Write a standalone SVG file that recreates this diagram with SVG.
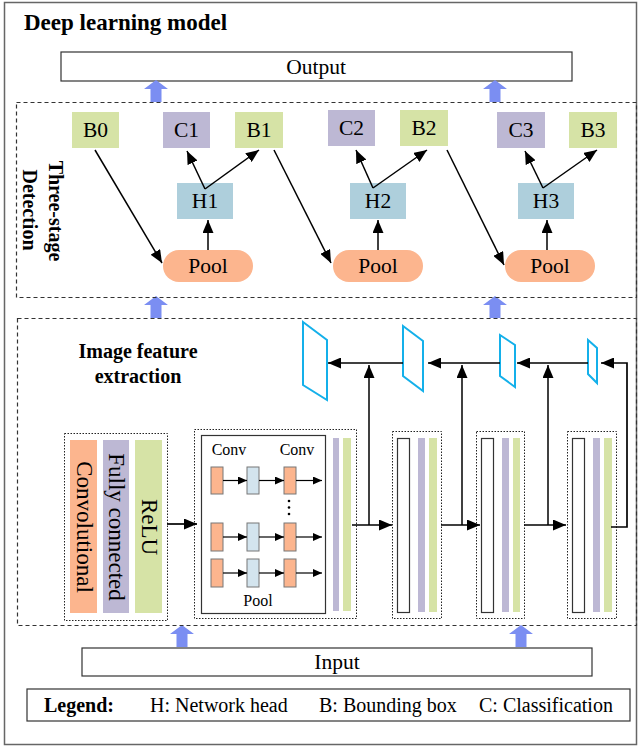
<svg xmlns="http://www.w3.org/2000/svg" width="641" height="749" viewBox="0 0 641 749">
<defs>
<marker id="ah" markerUnits="userSpaceOnUse" markerWidth="14" markerHeight="11" refX="13" refY="5.5" orient="auto"><path d="M0,0 L13,5.5 L0,11 z" fill="#000"/></marker>
<marker id="as" markerUnits="userSpaceOnUse" markerWidth="10" markerHeight="8" refX="9" refY="4" orient="auto"><path d="M0,0 L9,4 L0,8 z" fill="#000"/></marker>
<style>
text{font-family:"Liberation Serif","Times New Roman",serif;fill:#000}
.b{font-weight:bold}
.g{fill:#d6e3a6}.p{fill:#bdb8d4}.h{fill:#aecfdc}.o{fill:#fcb58e}
.dash{fill:none;stroke:#333;stroke-width:1.2;stroke-dasharray:4,3}
.dot{fill:none;stroke:#222;stroke-width:1;stroke-dasharray:1.5,1.5}
.ln{fill:none;stroke:#000;stroke-width:1.7}
.sl{fill:none;stroke:#000;stroke-width:1.5}
.ss{fill:none;stroke:#000;stroke-width:1.2}
.tr{fill:#fff;stroke:#14b0ea;stroke-width:2}
.bar{fill:#fff;stroke:#333;stroke-width:1.2}
.ob{fill:#fcb58e;stroke:#777;stroke-width:1}
.bb{fill:#d3e4ee;stroke:#777;stroke-width:1}
.ba{fill:#7b8ef2}
.lbl{font-size:21.5px;text-anchor:middle;dominant-baseline:central}
</style>
</defs>
<rect x="0" y="0" width="641" height="749" fill="#fff"/>
<rect x="4.5" y="2.5" width="632" height="742" fill="none" stroke="#666" stroke-width="1.5"/>
<text x="24" y="30" class="b" font-size="23">Deep learning model</text>

<g id="output"><rect x="61" y="52" width="511" height="29" fill="#fff" stroke="#333" stroke-width="1.2"/><text x="316" y="67" class="lbl" font-size="20">Output</text></g>

<g id="block-arrows">
<polygon class="ba" points="150.5,102 150.5,89 144,89 156,80 168,89 161.5,89 161.5,102"/>
<polygon class="ba" points="489.5,102 489.5,89 483,89 495,80 507,89 500.5,89 500.5,102"/>
<polygon class="ba" points="150.5,318 150.5,305 144,305 156,296 168,305 161.5,305 161.5,318"/>
<polygon class="ba" points="489.5,318 489.5,305 483,305 495,296 507,305 500.5,305 500.5,318"/>
<polygon class="ba" points="176.5,647 176.5,634 170,634 182,625 194,634 187.5,634 187.5,647"/>
<polygon class="ba" points="515.5,647 515.5,634 509,634 521,625 533,634 526.5,634 526.5,647"/>
</g>

<g id="detection">
<rect class="dash" x="16.5" y="102.5" width="620" height="195"/>
<text transform="translate(56,211) rotate(90)" class="b" font-size="20" text-anchor="middle" dominant-baseline="central">Three-stage</text>
<text transform="translate(30,210) rotate(90)" class="b" font-size="20" text-anchor="middle" dominant-baseline="central">Detection</text>
</g>

<g id="B0"><rect class="g" x="72" y="112" width="47" height="36"/><text class="lbl" x="95.5" y="130">B0</text></g>
<g id="C1"><rect class="p" x="163" y="112" width="47" height="36"/><text class="lbl" x="186.5" y="130">C1</text></g>
<g id="B1"><rect class="g" x="235" y="112" width="48" height="36"/><text class="lbl" x="259" y="130">B1</text></g>
<g id="H1"><rect class="h" x="177" y="183" width="56" height="36"/><text class="lbl" x="205" y="201">H1</text></g>
<g id="Pool1"><rect class="o" x="163" y="250" width="90" height="32" rx="16"/><text class="lbl" x="208" y="266" font-size="22">Pool</text></g>
<g id="C2"><rect class="p" x="328" y="110" width="47" height="36"/><text class="lbl" x="351.5" y="128">C2</text></g>
<g id="B2"><rect class="g" x="400" y="110" width="48" height="36"/><text class="lbl" x="424" y="128">B2</text></g>
<g id="H2"><rect class="h" x="350" y="183" width="56" height="36"/><text class="lbl" x="378" y="201">H2</text></g>
<g id="Pool2"><rect class="o" x="333" y="250" width="90" height="32" rx="16"/><text class="lbl" x="378" y="266" font-size="22">Pool</text></g>
<g id="C3"><rect class="p" x="497" y="112" width="48" height="36"/><text class="lbl" x="521" y="130">C3</text></g>
<g id="B3"><rect class="g" x="569" y="112" width="48" height="36"/><text class="lbl" x="593" y="130">B3</text></g>
<g id="H3"><rect class="h" x="518" y="183" width="56" height="36"/><text class="lbl" x="546" y="201">H3</text></g>
<g id="Pool3"><rect class="o" x="505" y="250" width="90" height="32" rx="16"/><text class="lbl" x="550" y="266" font-size="22">Pool</text></g>

<g id="feature">
<rect class="dash" x="17.5" y="318.5" width="619" height="307"/>
<text x="138" y="358" class="b" font-size="20" text-anchor="middle">Image feature</text>
<text x="138" y="383" class="b" font-size="20" text-anchor="middle">extraction</text>
</g>

<g id="layer-types">
<rect class="dot" x="64.5" y="433.5" width="103" height="187"/>
<rect class="o" x="70" y="440" width="27" height="173"/>
<rect class="p" x="103" y="440" width="26" height="173"/>
<rect class="g" x="135" y="440" width="27" height="173"/>
<text transform="translate(84,527) rotate(90)" font-size="23" text-anchor="middle" dominant-baseline="central">Convolutional</text>
<text transform="translate(116,527) rotate(90)" font-size="23" text-anchor="middle" dominant-baseline="central">Fully connected</text>
<text transform="translate(149,527) rotate(90)" font-size="23" text-anchor="middle" dominant-baseline="central">ReLU</text>
</g>

<g id="conv-module">
<rect class="dot" x="194.5" y="429.5" width="162" height="189"/>
<rect x="201.5" y="435.5" width="124" height="178" fill="#fff" stroke="#333" stroke-width="1.2"/>
<text x="229" y="455" font-size="16" text-anchor="middle">Conv</text>
<text x="297" y="455" font-size="16" text-anchor="middle">Conv</text>
<text x="258" y="606" font-size="16" text-anchor="middle">Pool</text>
<rect class="ob" x="211" y="467" width="12" height="27"/><rect class="bb" x="247" y="467" width="12" height="27"/><rect class="ob" x="284" y="467" width="12" height="27"/>
<rect class="ob" x="211" y="523" width="12" height="28"/><rect class="bb" x="247" y="523" width="12" height="28"/><rect class="ob" x="284" y="523" width="12" height="28"/>
<rect class="ob" x="211" y="559" width="12" height="28"/><rect class="bb" x="247" y="559" width="12" height="28"/><rect class="ob" x="284" y="559" width="12" height="28"/>
<circle cx="289" cy="501" r="1.3" fill="#000"/><circle cx="289" cy="507.5" r="1.3" fill="#000"/><circle cx="289" cy="514" r="1.3" fill="#000"/>
<rect class="p" x="333" y="438" width="6" height="173"/>
<rect class="g" x="343" y="438" width="8" height="173"/>
</g>

<g id="stage2"><rect class="dot" x="392.5" y="431.5" width="49" height="187"/><rect class="bar" x="397.5" y="438.5" width="12" height="174"/><rect class="p" x="418" y="438" width="7" height="174"/><rect class="g" x="429" y="438" width="8" height="174"/></g>
<g id="stage3"><rect class="dot" x="476.5" y="431.5" width="48" height="187"/><rect class="bar" x="481.5" y="438.5" width="12" height="174"/><rect class="p" x="502" y="438" width="7" height="174"/><rect class="g" x="513" y="438" width="7" height="174"/></g>
<g id="stage4"><rect class="dot" x="567.5" y="431.5" width="49" height="187"/><rect class="bar" x="572.5" y="438.5" width="12" height="174"/><rect class="p" x="593" y="438" width="7" height="174"/><rect class="g" x="604" y="438" width="8" height="174"/></g>

<g id="fpn1"><polygon class="tr" points="303,322 327,340 327,400 303,385"/></g>
<g id="fpn2"><polygon class="tr" points="403,326 423,341 423,391 403,376"/></g>
<g id="fpn3"><polygon class="tr" points="500,335 515,345 515,387 500,376"/></g>
<g id="fpn4"><polygon class="tr" points="588,340 597,348 597,383 588,374"/></g>

<g id="connectors">
<line class="sl" x1="95" y1="150" x2="162" y2="263" marker-end="url(#ah)"/>
<line class="sl" x1="205" y1="189" x2="187" y2="151" marker-end="url(#ah)"/>
<line class="sl" x1="205" y1="189" x2="259" y2="150" marker-end="url(#ah)"/>
<line class="sl" x1="208" y1="250" x2="208" y2="220" marker-end="url(#ah)"/>
<line class="sl" x1="274" y1="150" x2="331" y2="263" marker-end="url(#ah)"/>
<line class="sl" x1="373" y1="188" x2="356" y2="150" marker-end="url(#ah)"/>
<line class="sl" x1="373" y1="188" x2="427" y2="150" marker-end="url(#ah)"/>
<line class="sl" x1="378" y1="250" x2="378" y2="220" marker-end="url(#ah)"/>
<line class="sl" x1="447" y1="150" x2="504" y2="265" marker-end="url(#ah)"/>
<line class="sl" x1="543" y1="188" x2="525" y2="151" marker-end="url(#ah)"/>
<line class="sl" x1="543" y1="188" x2="597" y2="150" marker-end="url(#ah)"/>
<line class="sl" x1="547" y1="250" x2="547" y2="220" marker-end="url(#ah)"/>

<line class="ln" x1="167" y1="524" x2="197" y2="524" marker-end="url(#ah)"/>
<line class="ss" x1="223" y1="480.5" x2="247" y2="480.5" marker-end="url(#as)"/>
<line class="ss" x1="259" y1="480.5" x2="284" y2="480.5" marker-end="url(#as)"/>
<line class="ss" x1="296" y1="480.5" x2="322" y2="480.5" marker-end="url(#as)"/>
<line class="ss" x1="223" y1="537" x2="247" y2="537" marker-end="url(#as)"/>
<line class="ss" x1="259" y1="537" x2="284" y2="537" marker-end="url(#as)"/>
<line class="ss" x1="296" y1="537" x2="322" y2="537" marker-end="url(#as)"/>
<line class="ss" x1="223" y1="573" x2="247" y2="573" stroke="#666" marker-end="url(#as)"/>
<line class="ss" x1="259" y1="573" x2="284" y2="573" stroke="#666" marker-end="url(#as)"/>
<line class="ss" x1="296" y1="573" x2="322" y2="573" stroke="#666" marker-end="url(#as)"/>

<line class="ln" x1="352" y1="525" x2="392" y2="525" marker-end="url(#ah)"/>
<line class="ln" x1="441" y1="525" x2="480" y2="525" marker-end="url(#ah)"/>
<line class="ln" x1="524" y1="525" x2="566" y2="525" marker-end="url(#ah)"/>
<line class="sl" x1="369" y1="525" x2="369" y2="365" stroke="#333" marker-end="url(#ah)"/>
<line class="sl" x1="462" y1="525" x2="462" y2="365" stroke="#333" marker-end="url(#ah)"/>
<line class="sl" x1="548" y1="525" x2="548" y2="365" stroke="#333" marker-end="url(#ah)"/>
<line class="ln" x1="403" y1="363" x2="328" y2="363" marker-end="url(#ah)"/>
<line class="ln" x1="500" y1="363" x2="428" y2="363" marker-end="url(#ah)"/>
<line class="ln" x1="588" y1="363" x2="517" y2="363" marker-end="url(#ah)"/>
<path class="ln" d="M611,527 H627 V363 H601" marker-end="url(#ah)"/>
</g>

<g id="input"><rect x="82" y="648" width="510" height="28" fill="#fff" stroke="#333" stroke-width="1.2"/><text x="337" y="662" class="lbl" font-size="20">Input</text></g>

<g id="legend">
<rect x="27" y="689" width="603" height="32" fill="#fff" stroke="#333" stroke-width="1.2"/>
<text x="44" y="712" class="b" font-size="20">Legend:</text>
<text x="150" y="712" font-size="20">H: Network head</text>
<text x="319" y="712" font-size="20">B: Bounding box</text>
<text x="479" y="712" font-size="20">C: Classification</text>
</g>
</svg>
